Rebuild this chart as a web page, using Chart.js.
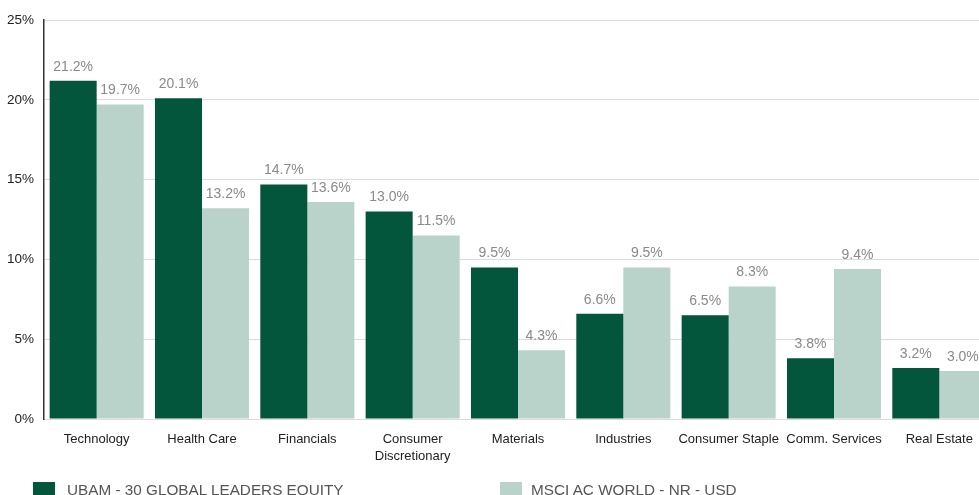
<!DOCTYPE html>
<html><head><meta charset="utf-8">
<script src="https://cdn.jsdelivr.net/npm/chart.js@4/dist/chart.umd.min.js"></script>
<style>
html,body{margin:0;padding:0;background:#fff;overflow:hidden;width:979px;height:495px;}
#wrap{position:absolute;left:0;top:0;width:992px;height:495px;}
.lg{position:absolute;top:481px;font-family:"Liberation Sans",Arial,sans-serif;font-size:15.3px;color:#555;white-space:nowrap;}
.sw{position:absolute;top:482px;width:22px;height:16px;}
</style></head>
<body>
<div id="wrap"><canvas id="c" width="992" height="495"></canvas></div>
<div class="sw" style="left:33px;background:#03563C"></div>
<div class="lg" style="left:67px">UBAM - 30 GLOBAL LEADERS EQUITY</div>
<div class="sw" style="left:500px;background:#B9D3CA"></div>
<div class="lg" style="left:531px">MSCI AC WORLD - NR - USD</div>
<script>
const categories = ["Technology","Health Care","Financials",["Consumer","Discretionary"],"Materials","Industries","Consumer Staple","Comm. Services","Real Estate"];
const fundValues = [21.2,20.1,14.7,13.0,9.5,6.6,6.5,3.8,3.2];
const benchValues = [19.7,13.2,13.6,11.5,4.3,9.5,8.3,9.4,3.0];
const seriesNames = ["UBAM - 30 GLOBAL LEADERS EQUITY","MSCI AC WORLD - NR - USD"];
const yTicks = [0,5,10,15,20,25];

const labelPlugin = {
  id:'vals',
  afterDatasetsDraw(chart){
    const ctx = chart.ctx;
    ctx.save();
    ctx.font = '14px "Liberation Sans", Arial, sans-serif';
    ctx.fillStyle = '#8a8a8a';
    ctx.textAlign = 'center';
    ctx.textBaseline = 'bottom';
    chart.data.datasets.forEach((ds,i)=>{
      chart.getDatasetMeta(i).data.forEach((bar,j)=>{
        ctx.fillText(ds.data[j].toFixed(1)+'%', bar.x, bar.y-7);
      });
    });
    ctx.restore();
  }
};

new Chart(document.getElementById('c'),{
  type:'bar',
  data:{labels:categories,datasets:[
    {label:seriesNames[0],data:fundValues,backgroundColor:'#03563C',borderWidth:0,categoryPercentage:0.893,barPercentage:1},
    {label:seriesNames[1],data:benchValues,backgroundColor:'#B9D3CA',borderWidth:0,categoryPercentage:0.893,barPercentage:1}
  ]},
  options:{
    responsive:false,animation:false,
    layout:{padding:{top:20,right:0,bottom:0,left:0}},
    plugins:{legend:{display:false},tooltip:{enabled:false}},
    scales:{
      x:{
        grid:{display:false,drawTicks:false},
        border:{display:false},
        ticks:{color:'#222',font:{family:'"Liberation Sans", Arial, sans-serif',size:13,lineHeight:1.38},padding:11,maxRotation:0,autoSkip:false},
        afterFit(s){s.height=76;}
      },
      y:{
        min:0,max:25,
        afterBuildTicks(s){s.ticks=yTicks.map(v=>({value:v}));},
        grid:{color:'#dcdcdc',lineWidth:1,drawTicks:false},
        border:{display:true,color:'#333',width:1.5},
        ticks:{color:'#222',font:{family:'"Liberation Sans", Arial, sans-serif',size:13.5},padding:10,callback:v=>v+'%'},
        afterFit(s){s.width=44;}
      }
    }
  },
  plugins:[labelPlugin]
});
</script>
</body></html>
